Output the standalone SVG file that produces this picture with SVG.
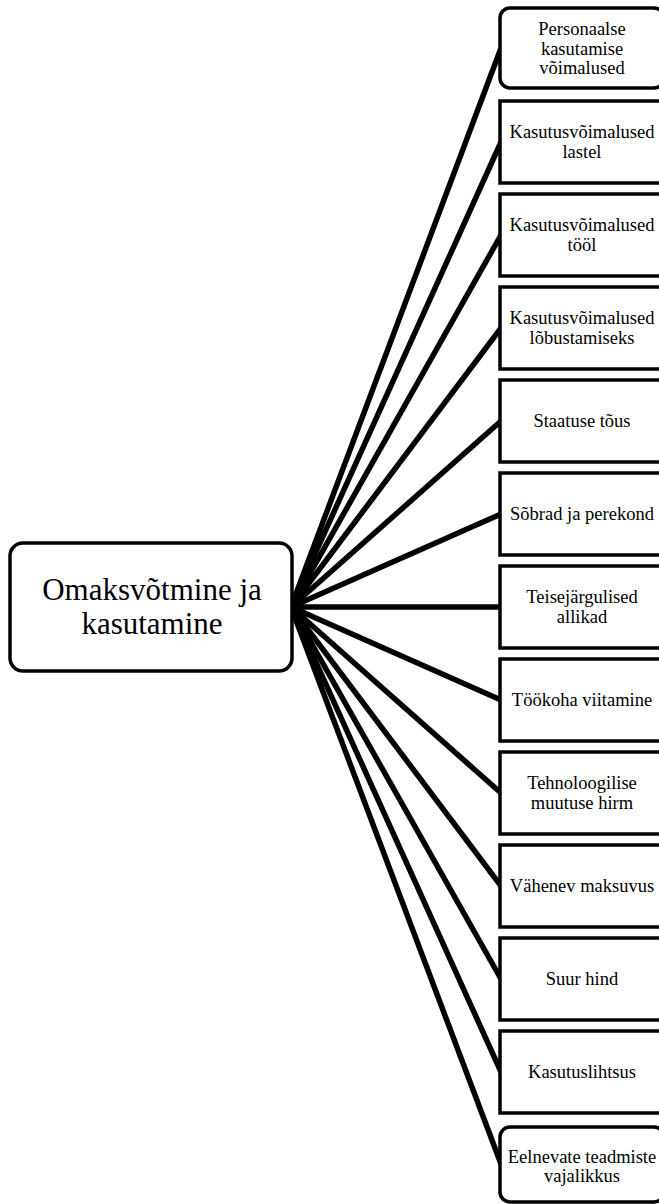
<svg xmlns="http://www.w3.org/2000/svg" width="659" height="1204" viewBox="0 0 659 1204">
<style>
.box{fill:#fff;stroke:#000;stroke-width:3.5}
.lbl{font-family:"Liberation Serif","Times New Roman",serif;font-size:18.5px;fill:#000;text-anchor:middle}
.main{font-family:"Liberation Serif","Times New Roman",serif;font-size:31px;fill:#000;text-anchor:middle}
.con line{stroke:#000;stroke-width:5.5}
</style>
<rect width="659" height="1204" fill="#fff"/>
<g id="connectors" class="con">
<line x1="291" y1="607" x2="501" y2="48"/>
<line x1="291" y1="607" x2="501" y2="142"/>
<line x1="291" y1="607" x2="501" y2="235"/>
<line x1="291" y1="607" x2="501" y2="328"/>
<line x1="291" y1="607" x2="501" y2="421"/>
<line x1="291" y1="607" x2="501" y2="514"/>
<line x1="291" y1="607" x2="501" y2="607"/>
<line x1="291" y1="607" x2="501" y2="700"/>
<line x1="291" y1="607" x2="501" y2="793"/>
<line x1="291" y1="607" x2="501" y2="886"/>
<line x1="291" y1="607" x2="501" y2="979"/>
<line x1="291" y1="607" x2="501" y2="1072"/>
<line x1="291" y1="607" x2="501" y2="1164"/>
</g>
<g id="center">
<rect class="box" x="10" y="543" width="282" height="128" rx="13"/>
<text class="main" x="152" y="600">Omaksvõtmine ja</text>
<text class="main" x="152" y="634">kasutamine</text>
</g>
<g id="n1">
<rect class="box" x="500" y="8" width="164" height="80" rx="10"/>
<text class="lbl" x="582" y="35">Personaalse</text>
<text class="lbl" x="582" y="55">kasutamise</text>
<text class="lbl" x="582" y="74">võimalused</text>
</g>
<g id="n2">
<rect class="box" x="500" y="101" width="164" height="82"/>
<text class="lbl" x="582" y="138">Kasutusvõimalused</text>
<text class="lbl" x="582" y="158">lastel</text>
</g>
<g id="n3">
<rect class="box" x="500" y="194" width="164" height="82"/>
<text class="lbl" x="582" y="231">Kasutusvõimalused</text>
<text class="lbl" x="582" y="251">tööl</text>
</g>
<g id="n4">
<rect class="box" x="500" y="287" width="164" height="82"/>
<text class="lbl" x="582" y="324">Kasutusvõimalused</text>
<text class="lbl" x="582" y="344">lõbustamiseks</text>
</g>
<g id="n5">
<rect class="box" x="500" y="380" width="164" height="82"/>
<text class="lbl" x="582" y="427">Staatuse tõus</text>
</g>
<g id="n6">
<rect class="box" x="500" y="473" width="164" height="82"/>
<text class="lbl" x="582" y="520">Sõbrad ja perekond</text>
</g>
<g id="n7">
<rect class="box" x="500" y="566" width="164" height="82"/>
<text class="lbl" x="582" y="603">Teisejärgulised</text>
<text class="lbl" x="582" y="623">allikad</text>
</g>
<g id="n8">
<rect class="box" x="500" y="659" width="164" height="82"/>
<text class="lbl" x="582" y="706">Töökoha viitamine</text>
</g>
<g id="n9">
<rect class="box" x="500" y="752" width="164" height="82"/>
<text class="lbl" x="582" y="789">Tehnoloogilise</text>
<text class="lbl" x="582" y="809">muutuse hirm</text>
</g>
<g id="n10">
<rect class="box" x="500" y="845" width="164" height="82"/>
<text class="lbl" x="582" y="892">Vähenev maksuvus</text>
</g>
<g id="n11">
<rect class="box" x="500" y="938" width="164" height="82"/>
<text class="lbl" x="582" y="985">Suur hind</text>
</g>
<g id="n12">
<rect class="box" x="500" y="1031" width="164" height="82"/>
<text class="lbl" x="582" y="1078">Kasutuslihtsus</text>
</g>
<g id="n13">
<rect class="box" x="500" y="1127" width="164" height="75" rx="10"/>
<text class="lbl" x="582" y="1163">Eelnevate teadmiste</text>
<text class="lbl" x="582" y="1182">vajalikkus</text>
</g>
</svg>
